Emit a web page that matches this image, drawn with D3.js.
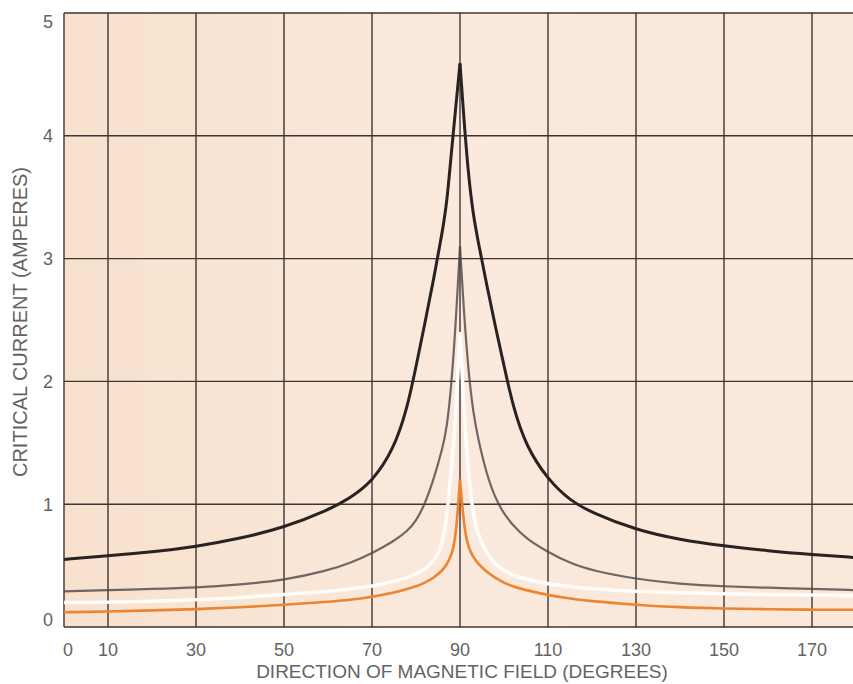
<!DOCTYPE html>
<html>
<head>
<meta charset="utf-8">
<script src="https://cdn.jsdelivr.net/npm/d3@7"></script>
<style>
  body { margin: 0; background: #fff; }
  svg { display: block; }
  text { font-family: "Liberation Sans", Arial, sans-serif; fill: #676262; }
</style>
</head>
<body>
<svg id="chart" width="853" height="684"></svg>
<script>
// angles (degrees) at which the curves were read
var angles = [0, 10, 20, 30, 40, 50, 60, 65, 70, 75, 78, 80, 82, 84, 86, 87, 88, 89, 90,
  91, 92, 93, 94, 96, 98, 100, 102, 105, 110, 115, 120, 130, 140, 150, 160, 170, 180]

var blackCurve = [0.55, 0.58, 0.61, 0.655, 0.72, 0.81, 0.95, 1.05, 1.18, 1.45, 1.78, 2.12, 2.47, 2.83, 3.22, 3.45, 3.85, 4.22, 4.59,
  4.08, 3.65, 3.36, 3.16, 2.8, 2.45, 2.13, 1.8, 1.47, 1.2, 1.03, 0.93, 0.79, 0.71, 0.66, 0.62, 0.59, 0.565]
var grayCurve = [0.29, 0.3, 0.31, 0.32, 0.345, 0.38, 0.46, 0.52, 0.6, 0.7, 0.78, 0.86, 1.0, 1.2, 1.45, 1.62, 1.95, 2.45, 3.1,
  2.5, 2.05, 1.75, 1.55, 1.25, 1.05, 0.92, 0.83, 0.72, 0.61, 0.52, 0.46, 0.39, 0.35, 0.33, 0.32, 0.31, 0.3]
var whiteCurve = [0.2, 0.2, 0.21, 0.22, 0.24, 0.265, 0.29, 0.31, 0.33, 0.37, 0.4, 0.43, 0.47, 0.53, 0.66, 0.9, 1.25, 1.7, 2.4,
  1.7, 1.2, 0.92, 0.76, 0.6, 0.51, 0.46, 0.42, 0.39, 0.35, 0.33, 0.31, 0.29, 0.28, 0.27, 0.265, 0.26, 0.255]
var orangeCurve = [0.12, 0.125, 0.135, 0.145, 0.16, 0.18, 0.205, 0.22, 0.245, 0.28, 0.31, 0.33, 0.36, 0.4, 0.46, 0.51, 0.58, 0.7, 1.2,
  0.78, 0.64, 0.57, 0.52, 0.45, 0.4, 0.36, 0.33, 0.3, 0.26, 0.23, 0.21, 0.18, 0.16, 0.15, 0.145, 0.14, 0.14]

var xTicks = [0, 10, 30, 50, 70, 90, 110, 130, 150, 170]
var yTicks = [0, 1, 2, 3, 4, 5]

var svg = d3.select('#chart')
var x = d3.scaleLinear().domain([0, 180]).range([64, 856])
var y = d3.scaleLinear().domain([0, 5]).range([627, 13])
var right = 853

var defs = svg.append('defs')
var grad = defs.append('linearGradient').attr('id', 'paper')
grad.append('stop').attr('offset', '0%').attr('stop-color', '#f8e1cd')
grad.append('stop').attr('offset', '50%').attr('stop-color', '#fae9dc')
grad.append('stop').attr('offset', '100%').attr('stop-color', '#fae8da')

svg.append('rect')
  .attr('x', x(0)).attr('y', y(5))
  .attr('width', right - x(0)).attr('height', y(0) - y(5))
  .attr('fill', 'url(#paper)')

// grid
var grid = svg.append('g').attr('stroke', '#3d3636').attr('stroke-width', 1.4)
grid.selectAll('.vline').data(xTicks).enter().append('line')
  .attr('x1', function (d) { return x(d) }).attr('x2', function (d) { return x(d) })
  .attr('y1', y(5)).attr('y2', y(0))
grid.selectAll('.hline').data(yTicks).enter().append('line')
  .attr('x1', x(0)).attr('x2', right)
  .attr('y1', function (d) { return y(d) }).attr('y2', function (d) { return y(d) })

// curves, split at the cusp so the peak stays sharp
function half (vals, left) {
  return angles.map(function (a, i) { return [a, vals[i]] })
    .filter(function (p) { return left ? p[0] <= 90 : p[0] >= 90 })
}
var line = d3.line()
  .x(function (d) { return x(d[0]) })
  .y(function (d) { return y(d[1]) })
  .curve(d3.curveBasis)

var series = [
  { vals: orangeCurve, color: '#ec8532', width: 2.6, opacity: 1 },
  { vals: whiteCurve, color: '#fffcf9', width: 3.6, opacity: 1 },
  { vals: grayCurve, color: '#4e4646', width: 2.2, opacity: 0.8 },
  { vals: blackCurve, color: '#2a2222', width: 3, opacity: 1 }
]
series.forEach(function (s) {
  [true, false].forEach(function (left) {
    svg.append('path')
      .attr('d', line(half(s.vals, left)))
      .attr('fill', 'none')
      .attr('stroke', s.color)
      .attr('stroke-width', s.width)
      .attr('stroke-opacity', s.opacity)
      .attr('stroke-linejoin', 'round')
  })
})

// tick labels
svg.selectAll('.ylab').data(yTicks).enter().append('text')
  .attr('x', 53)
  .attr('y', function (d) { return Math.max(y(5) + 9, Math.min(y(0) - 7, y(d))) })
  .attr('dy', '0.36em')
  .attr('text-anchor', 'end')
  .style('font-size', '18px')
  .text(function (d) { return d })

svg.selectAll('.xlab').data(xTicks).enter().append('text')
  .attr('x', function (d) { return x(d) + (d === 0 ? 4 : 0) })
  .attr('y', 656)
  .attr('text-anchor', 'middle')
  .style('font-size', '18px')
  .text(function (d) { return d })

svg.append('text')
  .attr('x', 462).attr('y', 678)
  .attr('text-anchor', 'middle')
  .style('font-size', '19px')
  .text('DIRECTION OF MAGNETIC FIELD (DEGREES)')

svg.append('text')
  .attr('transform', 'translate(27,322) rotate(-90)')
  .attr('text-anchor', 'middle')
  .style('font-size', '20px')
  .text('CRITICAL CURRENT (AMPERES)')
</script>
</body>
</html>
